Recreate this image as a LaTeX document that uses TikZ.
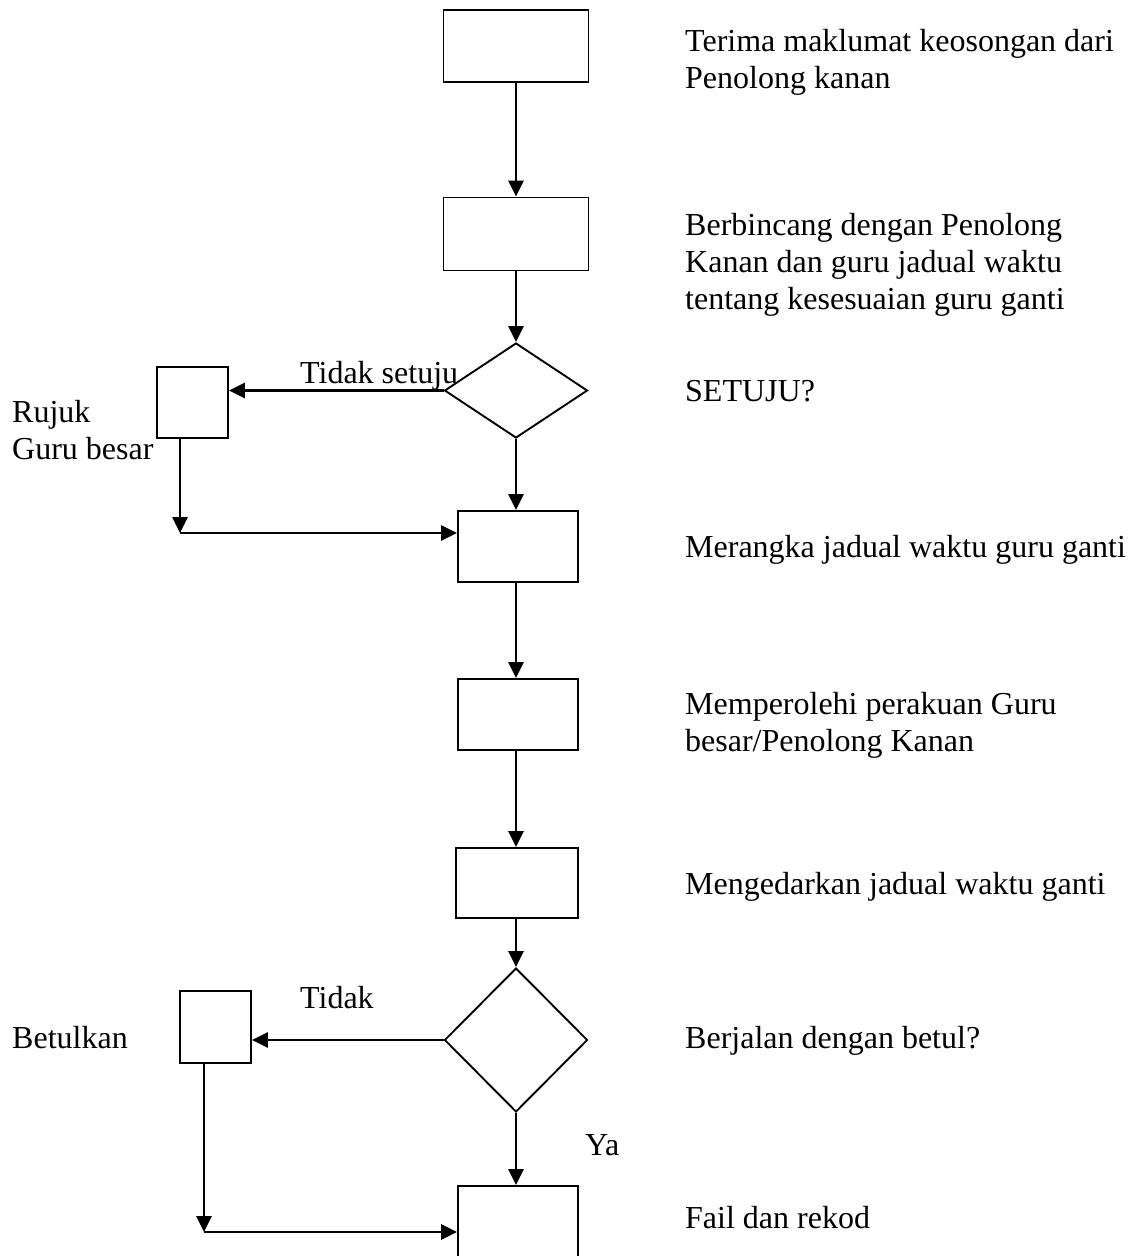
\documentclass[tikz,border=0pt]{standalone}
\usepackage{fontspec}
\setmainfont{Liberation Serif}
\usetikzlibrary{shapes.geometric,arrows.meta}
\begin{document}
\begin{tikzpicture}[x=1pt,y=-1pt,
  box/.style={draw,line width=1.9pt,rectangle,inner sep=0pt,minimum width=#1},
  box/.default=120pt,
  dec/.style={draw,line width=1.9pt,diamond,inner sep=0pt,minimum width=143pt},
  arr/.style={line width=2.6pt,-{Triangle[length=16pt,width=15pt]}},
  txt/.style={font=\fontsize{32}{37}\selectfont,inner sep=0pt,anchor=base west,align=left}
]
\useasboundingbox (0,0) rectangle (1135,1256);
% process boxes
\node[box=145pt,minimum height=72pt] (b1) at (516,46) {};
\node[box=145pt,minimum height=73pt] (b2) at (516,234) {};
\node[dec,minimum height=95pt] (d1) at (516,390.5) {};
\node[box=71pt,minimum height=71pt] (r1) at (192.5,402.5) {};
\node[box=120pt,minimum height=71pt] (b3) at (518,546.5) {};
\node[box=120pt,minimum height=71pt] (b4) at (518,714.5) {};
\node[box=122pt,minimum height=70pt] (b5) at (517,883) {};
\node[dec,minimum height=144pt] (d2) at (516,1040) {};
\node[box=71pt,minimum height=72pt] (r2) at (215.5,1027) {};
\node[box=120pt,minimum height=90pt] (b6) at (518,1231) {};
\coordinate (c1) at (180,533);
\coordinate (c2) at (204,1232);
% connectors
\draw[arr] (b1) -- (b2);
\draw[arr] (b2) -- (d1);
\draw[arr] (d1.west) -- (d1.west -| r1.east);
\draw[arr] (d1.south) -- (d1.south |- b3.north);
\draw[arr] (c1 |- r1.south) -- (c1);
\draw[arr] (c1) -- (c1 -| b3.west);
\draw[arr] (b3.south -| d1.south) -- (d1.south |- b4.north);
\draw[arr] (b4.south -| d1.south) -- (d1.south |- b5.north);
\draw[arr] (b5.south -| d1.south) -- (d2.north);
\draw[arr] (d2.west) -- (d2.west -| r2.east);
\draw[arr] (d2.south) -- (d2.south |- b6.north);
\draw[arr] (c2 |- r2.south) -- (c2);
\draw[arr] (c2) -- (c2 -| b6.west);
% labels (base = baseline of last line)
\node[txt] (t1) at (685,88) {Terima maklumat keosongan dari\\Penolong kanan};
\node[txt] (t2) at (685,309) {Berbincang dengan Penolong\\Kanan dan guru jadual waktu\\tentang kesesuaian guru ganti};
\node[txt] (t3) at (685,401) {SETUJU?};
\node[txt] (t4) at (685,557) {Merangka jadual waktu guru ganti};
\node[txt] (t5) at (685,751) {Memperolehi perakuan Guru\\besar/Penolong Kanan};
\node[txt] (t6) at (685,894) {Mengedarkan jadual waktu ganti};
\node[txt] (t7) at (685,1048) {Berjalan dengan betul?};
\node[txt] (t8) at (685,1228) {Fail dan rekod};
\node[txt] (l1) at (300,383) {Tidak setuju};
\node[txt] (l2) at (12,459) {Rujuk\\Guru besar};
\node[txt] (l3) at (300,1008) {Tidak};
\node[txt] (l4) at (12,1048) {Betulkan};
\node[txt] (l5) at (585,1155) {Ya};
\end{tikzpicture}
\end{document}
